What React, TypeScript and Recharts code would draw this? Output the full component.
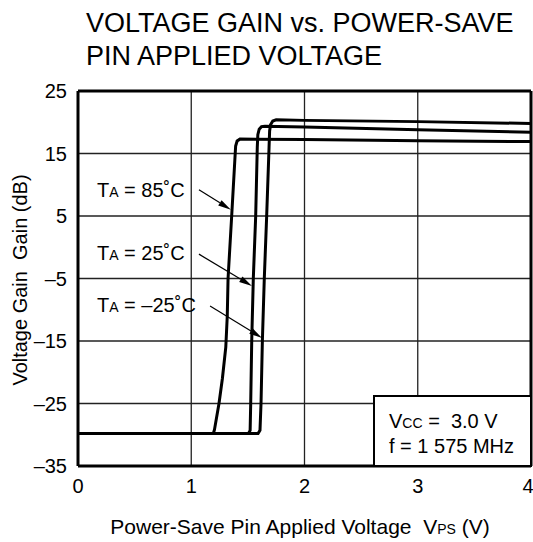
import React from 'react';
import { LineChart, Line, XAxis, YAxis, CartesianGrid, ReferenceLine } from 'recharts';

// power-save pin voltage (V) vs voltage gain (dB), one pair per temperature
const vps85 = [0, 1.195, 1.205, 1.245, 1.275, 1.305, 1.318, 1.325, 1.357, 1.385, 1.392, 1.405, 1.43, 2, 3, 4];
const gain85 = [-29.8, -29.8, -29.2, -25, -21, -16, -11, -5, 5, 14, 16.2, 17.0, 17.3, 17.25, 17.05, 16.9];

const vps25 = [0, 1.505, 1.52, 1.525, 1.534, 1.548, 1.569, 1.583, 1.588, 1.6, 1.62, 1.65, 2, 3, 4];
const gain25 = [-29.8, -29.8, -29.3, -25, -15, -5, 5, 16, 18.0, 18.9, 19.3, 19.35, 19.25, 18.8, 18.4];

const vpsM25 = [0, 1.59, 1.607, 1.616, 1.628, 1.645, 1.666, 1.687, 1.692, 1.7, 1.72, 1.75, 2, 3, 4];
const gainM25 = [-29.8, -29.8, -29.3, -25, -15, -5, 5, 16, 18.6, 19.6, 20.2, 20.4, 20.3, 20.1, 19.8];

const xTicks = [0, 1, 2, 3, 4];
const yTicks = [-35, -25, -15, -5, 5, 15, 25];

// annotation arrows: [from, to] in data units
const arrow85 = [{ x: 1.068, y: 9.2 }, { x: 1.35, y: 6.0 }];
const arrow25 = [{ x: 1.068, y: -1.1 }, { x: 1.536, y: -6.2 }];
const arrowM25 = [{ x: 1.166, y: -9.4 }, { x: 1.625, y: -14.5 }];

const toPoints = (xs: number[], ys: number[]) => xs.map((v, i) => ({ vps: v, gain: ys[i] }));

const FONT = '"Liberation Sans", Arial, Helvetica, sans-serif';
const NB = '\u00A0';

const ArrowShape = (props: any) => {
  const { x1, y1, x2, y2 } = props;
  if ([x1, y1, x2, y2].some((v) => v == null || isNaN(v))) return null;
  const ang = Math.atan2(y2 - y1, x2 - x1);
  const len = 13;
  const half = 3.2;
  const bx = x2 - len * Math.cos(ang);
  const by = y2 - len * Math.sin(ang);
  const px = -Math.sin(ang) * half;
  const py = Math.cos(ang) * half;
  return (
    <g>
      <line x1={x1} y1={y1} x2={bx} y2={by} stroke="#000" strokeWidth={1.2} />
      <polygon points={`${x2},${y2} ${bx + px},${by + py} ${bx - px},${by - py}`} fill="#000" />
    </g>
  );
};

const App: React.FC = () => {
  const w = 533;
  const h = 542;
  return (
    <div style={{ position: 'absolute', left: 0, top: 0, width: w, height: h, background: '#fff', fontFamily: FONT }}>
      <LineChart width={w} height={h} margin={{ top: 91, right: 2, bottom: 46, left: 0 }}>
        <CartesianGrid stroke="#222" strokeWidth={1.3} />
        <XAxis
          type="number"
          dataKey="vps"
          domain={[0, 4]}
          ticks={xTicks}
          height={30}
          axisLine={false}
          tickLine={false}
          tickMargin={7}
          tick={{ fill: '#000', fontSize: 20, fontFamily: FONT }}
          allowDataOverflow
        />
        <YAxis
          type="number"
          domain={[-35, 25]}
          ticks={yTicks}
          width={78}
          axisLine={false}
          tickLine={false}
          tickMargin={5}
          tickFormatter={(v: number) => String(v).replace('-', '–')}
          tick={{ fill: '#000', fontSize: 20, fontFamily: FONT }}
          allowDataOverflow
        />
        <ReferenceLine x={0} stroke="#000" strokeWidth={3} />
        <ReferenceLine x={4} stroke="#000" strokeWidth={3} />
        <ReferenceLine y={25} stroke="#000" strokeWidth={3} />
        <ReferenceLine y={-35} stroke="#000" strokeWidth={3} />
        <Line data={toPoints(vps85, gain85)} dataKey="gain" type="linear" stroke="#000" strokeWidth={3} dot={false} isAnimationActive={false} />
        <Line data={toPoints(vps25, gain25)} dataKey="gain" type="linear" stroke="#000" strokeWidth={3} dot={false} isAnimationActive={false} />
        <Line data={toPoints(vpsM25, gainM25)} dataKey="gain" type="linear" stroke="#000" strokeWidth={3} dot={false} isAnimationActive={false} />
        <ReferenceLine segment={arrow85} shape={ArrowShape} />
        <ReferenceLine segment={arrow25} shape={ArrowShape} />
        <ReferenceLine segment={arrowM25} shape={ArrowShape} />
      </LineChart>

      <svg width={w} height={h} style={{ position: 'absolute', left: 0, top: 0, pointerEvents: 'none' }} fontFamily={FONT} fill="#000">
        <text x={86} y={32} fontSize={27}>VOLTAGE GAIN vs. POWER-SAVE</text>
        <text x={86} y={65} fontSize={27}>PIN APPLIED VOLTAGE</text>

        <text x={97} y={197} fontSize={20}>T<tspan fontSize={14}>A</tspan> = 85˚C</text>
        <text x={97} y={260} fontSize={20}>T<tspan fontSize={14}>A</tspan> = 25˚C</text>
        <text x={97} y={312} fontSize={20}>T<tspan fontSize={14}>A</tspan> = –25˚C</text>

        <rect x={374} y={396} width={157} height={70} fill="#fff" stroke="#000" strokeWidth={2} />
        <text x={389} y={428} fontSize={20}>V<tspan fontSize={14}>CC</tspan>{` =${NB} 3.0 V`}</text>
        <text x={389} y={453} fontSize={20}>f = 1 575 MHz</text>

        <text x={300} y={534} fontSize={21} textAnchor="middle">
          {`Power-Save Pin Applied Voltage${NB} V`}<tspan fontSize={14}>PS</tspan> (V)
        </text>
        <text x={27} y={280} fontSize={20} textAnchor="middle" transform="rotate(-90 27 280)">
          {`Voltage Gain${NB} Gain (dB)`}
        </text>
      </svg>
    </div>
  );
};

export default App;
